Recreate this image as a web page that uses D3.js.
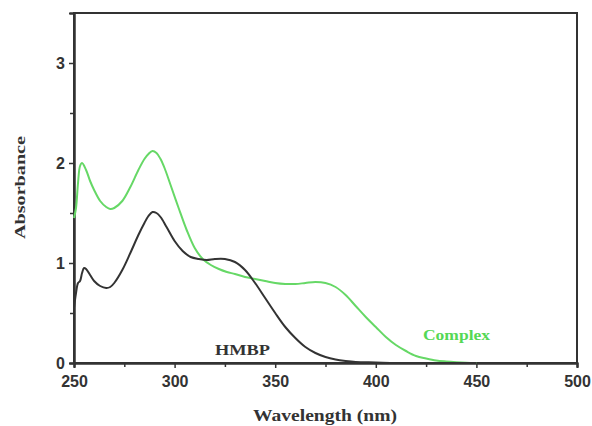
<!DOCTYPE html>
<html><head><meta charset="utf-8">
<script src="https://cdn.jsdelivr.net/npm/d3@7"></script>
<style>body{margin:0;background:#fff;}svg{display:block;}</style>
</head><body>
<script>
const hmbpWl = [250,251,252,253,254,255,256,258,260,263,266,268,270,274,278,282,285,287,289,291,293,296,300,304,308,312,316,320,325,330,335,340,345,350,355,360,365,370,375,380,385,390,400,410,420,430,440,450];
const hmbpAbs = [0.55,0.7,0.8,0.82,0.9,0.95,0.94,0.88,0.82,0.77,0.75,0.76,0.8,0.93,1.1,1.28,1.4,1.47,1.51,1.5,1.46,1.36,1.22,1.12,1.06,1.04,1.03,1.04,1.04,1.01,0.93,0.8,0.65,0.5,0.36,0.25,0.16,0.1,0.06,0.035,0.02,0.01,0.005,0,0,0,0,0];
const complexWl = [250,251,252,253,254,256,258,260,263,266,268,270,274,278,282,285,287,289,291,293,295,298,302,306,310,314,318,322,326,330,335,340,345,350,355,360,365,370,375,380,385,390,395,400,405,410,415,420,425,430,435,440,445,450];
const complexAbs = [1.45,1.55,1.8,1.97,2.0,1.93,1.82,1.73,1.62,1.56,1.54,1.55,1.62,1.76,1.93,2.04,2.09,2.12,2.1,2.04,1.95,1.78,1.55,1.33,1.15,1.04,0.98,0.94,0.91,0.89,0.86,0.84,0.82,0.8,0.79,0.79,0.8,0.81,0.8,0.76,0.68,0.57,0.46,0.36,0.26,0.18,0.12,0.07,0.045,0.025,0.015,0.008,0.003,0];
const xTicks = [250,300,350,400,450,500];
const xMinor = [275,325,375,425,475];
const yTicks = [0,1,2,3];
const yMinor = [0.5,1.5,2.5];

const W=592,H=426;
const m={l:74,r:15,t:13,b:63};
const svg=d3.select("body").append("svg").attr("width",W).attr("height",H);
const x=d3.scaleLinear().domain([250,500]).range([m.l,W-m.r]);
const y=d3.scaleLinear().domain([0,3.5]).range([H-m.b,m.t]);

svg.append("rect").attr("x",x(250)).attr("y",y(3.5)).attr("width",x(500)-x(250)).attr("height",y(0)-y(3.5))
 .attr("fill","none").attr("stroke","#333").attr("stroke-width",2);

const xa=svg.append("g").attr("transform",`translate(0,${y(0)})`)
 .call(d3.axisBottom(x).tickValues(xTicks).tickSize(5).tickFormat(d3.format("d")));
const xm=svg.append("g").attr("transform",`translate(0,${y(0)})`)
 .call(d3.axisBottom(x).tickValues(xMinor).tickSize(4).tickFormat(""));
const ya=svg.append("g").attr("transform",`translate(${x(250)},0)`)
 .call(d3.axisLeft(y).tickValues(yTicks).tickSize(5).tickFormat(d3.format("d")));
const ym=svg.append("g").attr("transform",`translate(${x(250)},0)`)
 .call(d3.axisLeft(y).tickValues(yMinor).tickSize(4).tickFormat(""));
[xa,xm,ya,ym].forEach(a=>{
  a.select(".domain").attr("stroke","#333").attr("stroke-width",2);
  a.selectAll(".tick line").attr("stroke","#333").attr("stroke-width",1.5);
  a.selectAll("text").attr("font-family","Liberation Sans, Arial, sans-serif").attr("font-weight","bold").attr("font-size",16).attr("fill","#333");
});
xa.selectAll("text").attr("dy","1.0em");
ya.selectAll("text").attr("x",-9);

const line=d3.line().x(d=>x(d[0])).y(d=>y(d[1])).curve(d3.curveCatmullRom.alpha(0.5));
svg.append("path").datum(complexWl.map((w,i)=>[w,complexAbs[i]]))
 .attr("d",line).attr("fill","none").attr("stroke","#66d866").attr("stroke-width",2);
svg.append("path").datum(hmbpWl.map((w,i)=>[w,hmbpAbs[i]]))
 .attr("d",line).attr("fill","none").attr("stroke","#333").attr("stroke-width",2);

const serif="Liberation Serif, Times New Roman, serif";
svg.append("text").attr("x",215).attr("y",355).attr("textLength",55).attr("lengthAdjust","spacingAndGlyphs")
 .attr("font-family",serif).attr("font-weight","bold").attr("font-size",15).attr("fill","#333").text("HMBP");
svg.append("text").attr("x",423).attr("y",340).attr("textLength",67).attr("lengthAdjust","spacingAndGlyphs")
 .attr("font-family",serif).attr("font-weight","bold").attr("font-size",15).attr("fill","#55d855").text("Complex");
svg.append("text").attr("x",253).attr("y",421).attr("textLength",144).attr("lengthAdjust","spacingAndGlyphs")
 .attr("font-family",serif).attr("font-weight","bold").attr("font-size",16).attr("fill","#333").text("Wavelength (nm)");
svg.append("text").attr("transform",`translate(25,${y(1.75)+51}) rotate(-90)`).attr("textLength",103).attr("lengthAdjust","spacingAndGlyphs")
 .attr("font-family",serif).attr("font-weight","bold").attr("font-size",15).attr("fill","#333").text("Absorbance");
</script>
</body></html>
